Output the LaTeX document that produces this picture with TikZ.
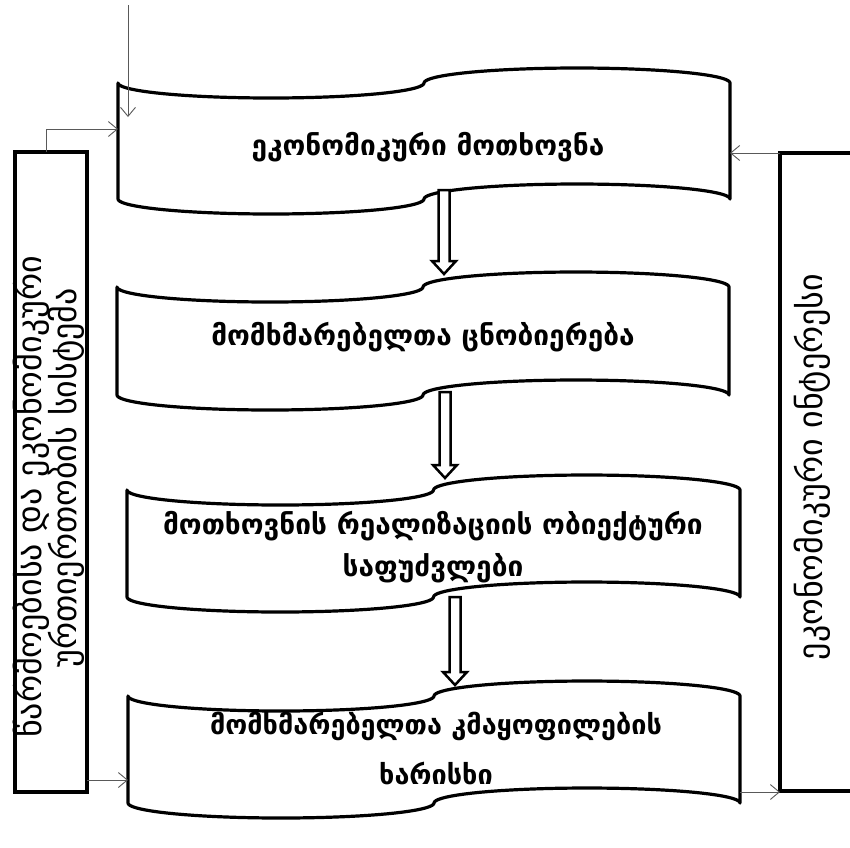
\documentclass[tikz,border=0pt]{standalone}
\usepackage{fontspec}
\setmainfont{DejaVu Sans}
\usetikzlibrary{arrows.meta}
\newcommand{\wavebox}[5]{%
  \pgfmathsetmacro\wR{(#2-#1)/4}%
  \draw[wavestyle]
    plot[domain=180:0,samples=40,variable=\t] ({#1+\wR+\wR*cos(\t)},{#3+#5*sin(\t)})
    -- plot[domain=180:360,samples=40,variable=\t] ({#1+3*\wR+\wR*cos(\t)},{#3+#5*sin(\t)})
    -- plot[domain=360:180,samples=40,variable=\t] ({#1+3*\wR+\wR*cos(\t)},{#3+#4+#5*sin(\t)})
    -- plot[domain=0:180,samples=40,variable=\t] ({#1+\wR+\wR*cos(\t)},{#3+#4+#5*sin(\t)})
    -- cycle;}
\newcommand{\blockarrow}[3]{%
  \draw[blockstyle] (#1-5.5,#2) -- (#1-5.5,#3-13) -- (#1-12,#3-13) -- (#1,#3)
    -- (#1+12,#3-13) -- (#1+5.5,#3-13) -- (#1+5.5,#2) -- cycle;}
\begin{document}
\begin{tikzpicture}[x=1pt,y=-1pt,
  wavestyle/.style={line width=3.2pt, line join=round, fill=white},
  blockstyle/.style={line width=2.5pt, fill=white, line join=miter},
  thinarrow/.style={draw=black!65, line width=0.9pt, -{Straight Barb[length=9pt,width=15pt]}},
  sidebox/.style={draw, line width=3.5pt},
  boxtext/.style={font=\bfseries\fontsize{28}{42}\selectfont, align=center, inner sep=0},
  sidetext/.style={font=\fontsize{34}{40}\selectfont, rotate=90, inner sep=0, anchor=base}]
\useasboundingbox (0,0) rectangle (850,847);
\clip (0,0) rectangle (850,847);

% side boxes
\draw[sidebox] (15,152) rectangle (87,792);
\draw[sidebox] (780,153) rectangle (880,791);

% wave boxes
\wavebox{118}{730}{83}{116}{15}
\wavebox{117}{729}{287}{108}{15}
\wavebox{127}{740}{490}{107}{15}
\wavebox{128}{740}{696}{107}{15}

% block arrows between boxes
\blockarrow{444}{190}{274}
\blockarrow{445}{392}{478}
\blockarrow{455}{597}{685}

% texts
\node[boxtext] (b1) at (428,147) {ეკონომიკური მოთხოვნა};
\node[boxtext] (b2) at (423,337) {მომხმარებელთა ცნობიერება};
\node[boxtext] (b3) at (433,547) {მოთხოვნის რეალიზაციის ობიექტური\\საფუძვლები};
\node[boxtext, font=\bfseries\fontsize{27}{50}\selectfont] (b4) at (436,748) {მომხმარებელთა კმაყოფილების\\ხარისხი};
\node[sidetext] (l1) at (41,497) {წარმოებისა და ეკონომიკური};
\node[sidetext] (l2) at (76,478) {ურთიერთობის სისტემა};
\node[sidetext] (r1) at (822,467) {ეკონომიკური ინტერესი};

% connection points
\coordinate (topin) at (128,5);
\coordinate (b1n) at (128,117);
\coordinate (lbtop) at (46,152);
\coordinate (lbturn) at (46,129);
\coordinate (b1w) at (118,129);
\coordinate (lbe) at (87,780);
\coordinate (b4w) at (128,780);
\coordinate (rbw) at (780,153);
\coordinate (b1e) at (730,153);
\coordinate (b4e) at (740,792);
\coordinate (rbbw) at (780,792);

\draw[thinarrow] (topin) -- (b1n);
\draw[thinarrow] (lbtop) -- (lbturn) -- (b1w);
\draw[thinarrow] (lbe) -- (b4w);
\draw[thinarrow] (rbw) -- (b1e);
\draw[thinarrow] (b4e) -- (rbbw);
\end{tikzpicture}
\end{document}
